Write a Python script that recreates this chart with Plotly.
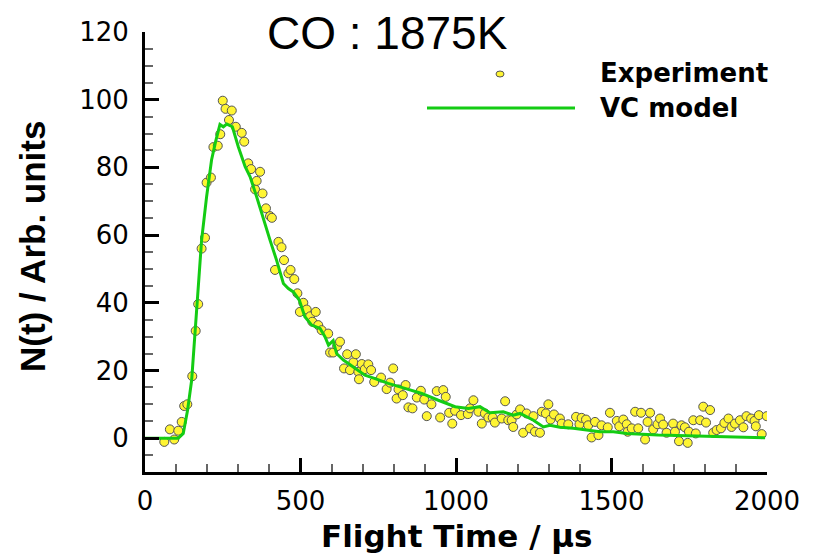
import plotly.graph_objects as go

# ---------------- data ----------------
exp_t = [62, 80, 94, 107, 118, 126, 136, 152, 163, 171, 182, 193, 198, 212, 220, 234, 242, 250, 259, 270,
         279, 292, 311, 319, 332, 341, 354, 359, 370, 378, 389, 402, 408, 418, 429, 439, 447, 461, 468, 480,
         490, 498, 509, 520, 531, 538, 549, 557, 568, 589, 595, 605, 618, 627, 640, 650, 659, 670, 678, 686,
         688, 697, 707, 718, 727, 737, 759, 777, 788, 798, 809, 815, 829, 838, 847, 860, 874, 887, 898, 906,
         921, 938, 949, 959, 967, 978, 988, 997, 1016, 1038, 1045, 1056, 1072, 1083, 1093, 1104, 1118, 1125, 1147, 1158,
         1168, 1179, 1184, 1195, 1206, 1216, 1227, 1238, 1249, 1254, 1270, 1276, 1289, 1297, 1304, 1315, 1334, 1340, 1361, 1386,
         1397, 1404, 1418, 1425, 1436, 1447, 1458, 1468, 1488, 1495, 1517, 1525, 1538, 1549, 1552, 1565, 1576, 1586, 1595, 1608,
         1616, 1624, 1634, 1648, 1656, 1666, 1677, 1698, 1704, 1717, 1725, 1736, 1745, 1749, 1763, 1771, 1785, 1795, 1804, 1817,
         1827, 1838, 1852, 1863, 1876, 1886, 1897, 1913, 1924, 1934, 1949, 1960, 1964, 1974, 1983, 1999]
exp_n = [-1.1, 2.6, -0.4, 2.2, 4.8, 9.5, 10.0, 18.3, 31.7, 39.6, 56.0, 59.2, 75.5, 77.0, 86.0, 86.4, 89.8, 99.7, 97.3, 94.0,
         96.8, 92.0, 90.2, 87.6, 81.2, 79.5, 73.5, 76.0, 78.7, 72.3, 67.9, 65.6, 65.1, 49.7, 58.0, 56.4, 52.6, 48.7, 49.7, 47.0,
         42.8, 37.3, 40.0, 38.0, 36.0, 34.4, 37.3, 33.4, 31.9, 30.9, 25.3, 25.3, 27.2, 28.5, 20.6, 24.8, 20.1, 22.4, 24.8, 19.6,
         17.4, 21.9, 20.4, 21.8, 20.1, 16.6, 17.9, 14.5, 16.4, 20.6, 11.7, 14.4, 12.7, 15.7, 9.1, 8.8, 12.0, 14.0, 11.4, 6.5,
         10.0, 13.9, 6.1, 14.2, 12.2, 7.5, 4.3, 8.1, 6.8, 7.1, 8.8, 11.2, 7.8, 4.3, 7.3, 6.1, 6.1, 4.6, 5.8, 10.9,
         5.3, 5.3, 3.3, 7.0, 8.5, 1.6, 7.3, 2.9, 6.5, 1.9, 1.6, 7.8, 7.3, 10.0, 5.5, 7.0, 5.8, 4.3, 4.1, 6.3,
         4.1, 6.0, 5.5, 3.8, 0.2, 4.8, 0.9, 3.8, 3.2, 7.5, 5.1, 3.5, 5.5, 4.1, 1.9, 2.9, 7.8, 2.9, 7.5, -0.4,
         4.8, 7.5, 2.6, 4.1, 5.8, 4.0, 1.6, 4.3, 1.9, -0.9, 3.8, 3.2, -1.4, 1.9, 5.3, 1.4, 5.3, 9.3, 4.6, 8.3,
         1.6, 2.4, 2.9, 4.5, 5.8, 3.3, 4.3, 5.3, 3.2, 6.5, 5.8, 5.1, 3.5, 6.8, 1.2, 6.5]

model_t = [0, 50, 107, 123, 137, 150, 161, 171, 182, 198, 214, 227, 241, 252, 263, 281, 300, 322, 338, 359,
           380, 402, 423, 445, 461, 477, 496, 514, 536, 563, 579, 590, 605, 616, 638, 670, 691, 707, 740, 782,
           836, 890, 943, 997, 1040, 1077, 1109, 1152, 1184, 1206, 1249, 1281, 1302, 1334, 1377, 1420, 1463, 1506, 1549, 1650,
           1758, 1865, 1994]
model_n = [0.0, 0.0, 0.0, 1.4, 8.3, 17.1, 31.9, 45.7, 58.5, 71.3, 82.2, 87.6, 92.7, 92.0, 92.8, 92.0, 86.1, 80.2, 77.2, 71.3,
           64.9, 58.5, 52.6, 45.7, 44.2, 43.2, 40.8, 35.9, 33.4, 32.4, 29.9, 27.5, 28.8, 25.0, 23.1, 21.1, 19.6, 18.6, 17.6, 16.2,
           14.7, 13.2, 11.2, 9.3, 8.8, 9.3, 7.5, 7.8, 6.8, 7.3, 5.3, 3.3, 3.8, 3.2, 2.9, 2.4, 1.9, 1.9, 1.4, 0.9,
           0.6, 0.4, 0.1]

x_ticks = [0, 500, 1000, 1500, 2000]
y_ticks = [0, 20, 40, 60, 80, 100, 120]

title_text = "CO : 1875K"
x_title = "Flight Time / μs"
y_title = "N(t) / Arb. units"
legend_names = ["Experiment", "VC model"]

# ---------------- style ----------------
YELLOW = "#FFF533"
EDGE = "#555555"
GREEN = "#14CC14"
TICKFONT = dict(family="DejaVu Sans", size=26, color="black")

fig = go.Figure()
fig.add_trace(go.Scatter(x=exp_t, y=exp_n, mode="markers", name=legend_names[0],
                         marker=dict(symbol="circle", size=9, color=YELLOW,
                                     line=dict(color=EDGE, width=1))))
fig.add_trace(go.Scatter(x=model_t, y=model_n, mode="lines", name=legend_names[1],
                         line=dict(color=GREEN, width=3)))

axis_common = dict(showgrid=False, zeroline=False, showline=True, linewidth=3, linecolor="black",
                   ticks="inside", ticklen=14, tickwidth=2.5, tickcolor="black",
                   tickfont=TICKFONT, automargin=False)

fig.update_xaxes(range=[0, 2000], tickvals=x_ticks, ticktext=[str(v) for v in x_ticks],
                 ticklabelstandoff=4,
                 minor=dict(ticks="inside", ticklen=8, dtick=100, tick0=0, tickcolor="#666666",
                            tickwidth=1.5, showgrid=False),
                 **axis_common)
fig.update_yaxes(range=[-10, 120], tickvals=y_ticks, ticktext=[str(v) for v in y_ticks],
                 ticklabelstandoff=8,
                 minor=dict(ticks="inside", ticklen=8, dtick=5, tick0=0, tickcolor="#666666",
                            tickwidth=1.5, showgrid=False),
                 **axis_common)

# The page body has an 8 px margin; work in page pixels and convert.
OFF = 8
FIG_W, FIG_H = 813 - OFF, 556 - OFF
L, R, T, B = 145, 767, 32, 472          # plot area in page pixels
W, H = R - L, B - T
def px(x):
    return (x - L) / W
def py(y):
    return (B - y) / H

annotations = [
    dict(text=title_text, x=px(387), y=py(33), xref="paper", yref="paper", showarrow=False,
         xanchor="center", yanchor="middle",
         font=dict(family="Liberation Sans", size=46, color="black")),
    dict(text="<b>" + x_title + "</b>", x=px(457), y=py(536), xref="paper", yref="paper", showarrow=False,
         xanchor="center", yanchor="middle",
         font=dict(family="DejaVu Sans", size=31, color="black")),
    dict(text="<b>" + y_title + "</b>", x=px(32), y=py(247), xref="paper", yref="paper", showarrow=False,
         xanchor="center", yanchor="middle", textangle=-90,
         font=dict(family="Liberation Sans", size=35, color="black")),
    dict(text="<b>" + legend_names[0] + "</b>", x=px(598), y=py(73), xref="paper", yref="paper",
         showarrow=False, xanchor="left", yanchor="middle",
         font=dict(family="DejaVu Sans", size=26, color="black")),
    dict(text="<b>" + legend_names[1] + "</b>", x=px(598), y=py(108), xref="paper", yref="paper",
         showarrow=False, xanchor="left", yanchor="middle",
         font=dict(family="DejaVu Sans", size=26, color="black")),
]

shapes = [
    dict(type="line", xref="paper", yref="paper", x0=px(427), x1=px(575), y0=py(108), y1=py(108),
         line=dict(color=GREEN, width=3)),
    dict(type="circle", xref="paper", yref="paper", xsizemode="pixel", ysizemode="pixel",
         xanchor=px(500), yanchor=py(74), x0=-4, x1=4, y0=-3, y1=3,
         fillcolor=YELLOW, line=dict(color=EDGE, width=1)),
]

fig.update_layout(width=FIG_W, height=FIG_H,
                  margin=dict(l=L - OFF, r=813 - R, t=T - OFF, b=556 - B, pad=0),
                  plot_bgcolor="white", paper_bgcolor="white", showlegend=False,
                  annotations=annotations, shapes=shapes)

fig.write_html("out.html")
